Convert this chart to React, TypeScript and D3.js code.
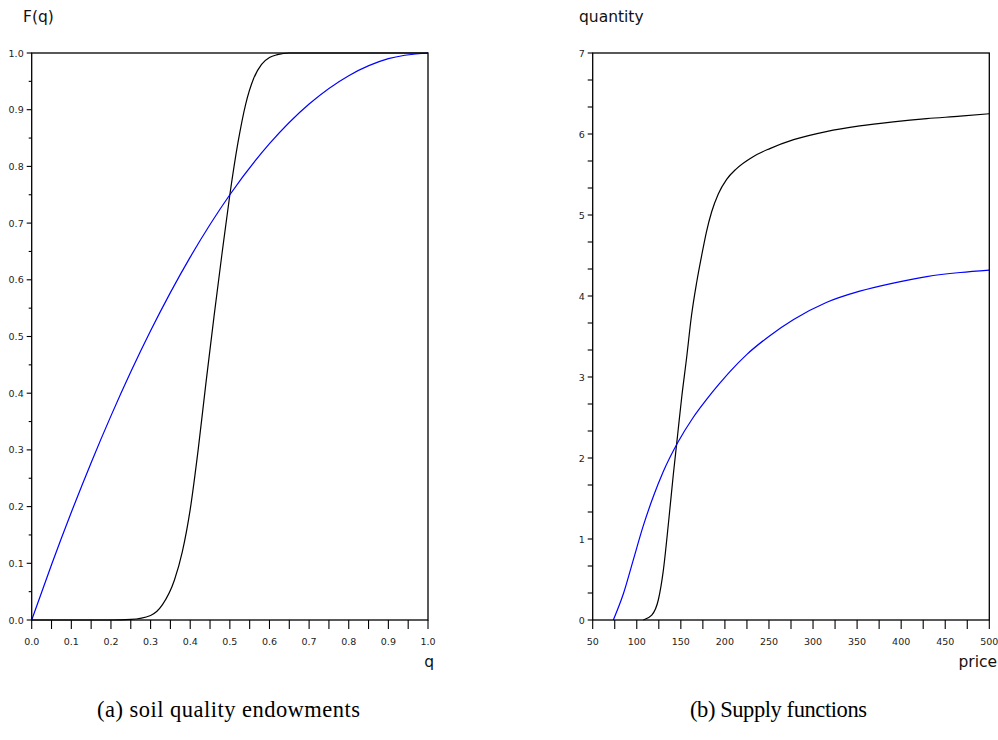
import React from "react";
import * as d3 from "d3";

// Left panel: soil quality endowments F(q)
const leftBlackQ = [0, 0.2, 0.25, 0.3, 0.33, 0.36, 0.38, 0.4, 0.42, 0.44, 0.46, 0.48, 0.5, 0.52, 0.54, 0.56, 0.58, 0.6, 0.62, 0.65, 0.8, 1.0];
const leftBlackF = [0, 0, 0.001, 0.008, 0.027, 0.07, 0.12, 0.195, 0.3, 0.42, 0.535, 0.645, 0.75, 0.84, 0.91, 0.955, 0.98, 0.992, 0.997, 1.0, 1.0, 1.0];
const leftBlueQ = [0, 0.05, 0.1, 0.15, 0.2, 0.3, 0.4, 0.5, 0.6, 0.7, 0.8, 0.9, 1.0];
const leftBlueF = [0, 0.0975, 0.19, 0.2775, 0.36, 0.51, 0.64, 0.75, 0.84, 0.91, 0.96, 0.99, 1.0];

// Right panel: supply functions
const rightBlackP = [107.4, 117, 124.5, 130, 136, 141.5, 146.5, 151, 156.7, 162, 168, 174, 179, 185, 192.5, 202, 213, 232, 251, 278, 315, 353, 391, 429, 467, 500];
const rightBlackQ = [0, 0.06, 0.25, 0.6, 1.2, 1.8, 2.3, 2.75, 3.25, 3.75, 4.17, 4.52, 4.79, 5.04, 5.26, 5.44, 5.57, 5.72, 5.82, 5.93, 6.03, 6.1, 6.15, 6.19, 6.22, 6.25];
const rightBlueP = [73.4, 85, 96, 107, 119, 130, 147, 164, 179, 194, 206, 225, 251, 278, 315, 353, 391, 429, 467, 500];
const rightBlueQ = [0, 0.33, 0.74, 1.15, 1.53, 1.83, 2.2, 2.5, 2.72, 2.92, 3.07, 3.28, 3.51, 3.71, 3.92, 4.06, 4.16, 4.24, 4.29, 4.32];

const leftXTicks = d3.range(0, 1.0001, 0.05);
const leftXLabels = ["0.0", "0.1", "0.2", "0.3", "0.4", "0.5", "0.6", "0.7", "0.8", "0.9", "1.0"];
const leftYTicks = d3.range(0, 1.0001, 0.05);
const leftYLabels = leftXLabels;
const rightXTicks = d3.range(50, 500.001, 25);
const rightXLabels = ["50", "100", "150", "200", "250", "300", "350", "400", "450", "500"];
const rightYTicks = d3.range(0, 7.0001, 1 / 3);
const rightYLabels = ["0", "1", "2", "3", "4", "5", "6", "7"];

const FONT = "'DejaVu Sans', sans-serif";

type PanelProps = {
  x0: number; x1: number; y0: number; y1: number;
  xDomain: [number, number]; yDomain: [number, number];
  xTicks: number[]; xLabels: string[]; xLabelStep: number;
  yTicks: number[]; yLabels: string[]; yLabelStep: number; yMinorLen: number;
  xTitle: string; yTitle: string; yTitleX: number; xTitleX: number;
  series: { xs: number[]; ys: number[]; color: string }[];
};

function Panel(p: PanelProps) {
  const xs = d3.scaleLinear().domain(p.xDomain).range([p.x0, p.x1]);
  const ys = d3.scaleLinear().domain(p.yDomain).range([p.y0, p.y1]);
  const line = d3.line<[number, number]>().x(d => xs(d[0])).y(d => ys(d[1])).curve(d3.curveMonotoneX);
  return (
    <g>
      {p.series.map((s, i) => (
        <path key={i} d={line(s.xs.map((x, j) => [x, s.ys[j]]) as [number, number][]) || ""} fill="none" stroke={s.color} strokeWidth={1.2} />
      ))}
      <rect x={p.x0} y={p.y1} width={p.x1 - p.x0} height={p.y0 - p.y1} fill="none" stroke="#000" strokeWidth={1.3} />
      {p.xTicks.map((t, i) => (
        <line key={"xt" + i} x1={xs(t)} x2={xs(t)} y1={p.y0} y2={p.y0 + 9} stroke="#000" strokeWidth={1.1} />
      ))}
      {p.xLabels.map((l, i) => (
        <text key={"xl" + i} x={xs(p.xDomain[0] + i * p.xLabelStep)} y={p.y0 + 25} fontSize={9.5} fontFamily={FONT} textAnchor="middle" fill="#222">{l}</text>
      ))}
      {p.yTicks.map((t, i) => {
        const isMajor = Math.abs(t / p.yLabelStep - Math.round(t / p.yLabelStep)) < 1e-6;
        return <line key={"yt" + i} x1={p.x0 - (isMajor ? 5 : p.yMinorLen)} x2={p.x0} y1={ys(t)} y2={ys(t)} stroke="#000" strokeWidth={1.1} />;
      })}
      {p.yLabels.map((l, i) => (
        <text key={"yl" + i} x={p.x0 - 8} y={ys(p.yDomain[0] + i * p.yLabelStep) + 3.5} fontSize={9.5} fontFamily={FONT} textAnchor="end" fill="#222">{l}</text>
      ))}
      <text x={p.yTitleX} y={22} fontSize={15.5} fontFamily={FONT} fill="#111">{p.yTitle}</text>
      <text x={p.xTitleX} y={667} fontSize={15.5} fontFamily={FONT} fill="#111" textAnchor="end">{p.xTitle}</text>
    </g>
  );
}

export default function App() {
  return (
    <svg width={998} height={740} style={{ position: "absolute", left: 0, top: 0, background: "#fff" }}>
      <rect x={0} y={0} width={998} height={740} fill="#fff" />
      <Panel x0={31.7} x1={428} y0={620} y1={53}
        xDomain={[0, 1]} yDomain={[0, 1]}
        xTicks={leftXTicks} xLabels={leftXLabels} xLabelStep={0.1}
        yTicks={leftYTicks} yLabels={leftYLabels} yLabelStep={0.1} yMinorLen={3}
        xTitle="q" yTitle="F(q)" yTitleX={23} xTitleX={434}
        series={[
          { xs: leftBlackQ, ys: leftBlackF, color: "#000" },
          { xs: leftBlueQ, ys: leftBlueF, color: "#0000ff" },
        ]} />
      <Panel x0={592.7} x1={989.3} y0={620} y1={53}
        xDomain={[50, 500]} yDomain={[0, 7]}
        xTicks={rightXTicks} xLabels={rightXLabels} xLabelStep={50}
        yTicks={rightYTicks} yLabels={rightYLabels} yLabelStep={1} yMinorLen={5}
        xTitle="price" yTitle="quantity" yTitleX={579} xTitleX={997}
        series={[
          { xs: rightBlackP, ys: rightBlackQ, color: "#000" },
          { xs: rightBlueP, ys: rightBlueQ, color: "#0000ff" },
        ]} />
      <text x={97} y={717} fontSize={22.5} fontFamily="'Liberation Serif', serif" textLength={263} lengthAdjust="spacing" fill="#000">(a) soil quality endowments</text>
      <text x={690} y={717} fontSize={22.5} fontFamily="'Liberation Serif', serif" textLength={177} lengthAdjust="spacing" fill="#000">(b) Supply functions</text>
    </svg>
  );
}
